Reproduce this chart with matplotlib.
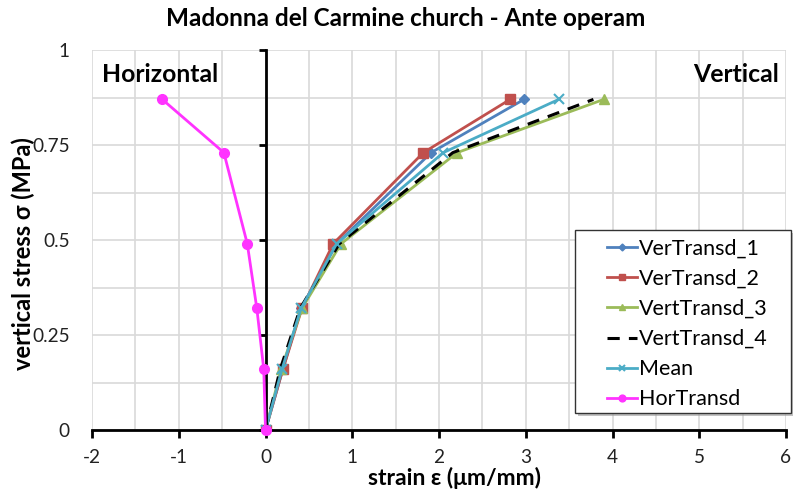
import matplotlib
matplotlib.use("Agg")
import matplotlib.pyplot as plt
from matplotlib.ticker import MultipleLocator
from matplotlib.patches import Rectangle

plt.rcParams['font.family'] = ['Lato', 'DejaVu Sans']

stress = [0, 0.16, 0.32, 0.49, 0.73, 0.87]
ver1 = [0, 0.20, 0.41, 0.82, 1.91, 2.98]
ver2 = [0, 0.20, 0.42, 0.78, 1.82, 2.82]
ver3 = [0, 0.18, 0.42, 0.87, 2.21, 3.90]
ver4 = [0, 0.17, 0.40, 0.85, 2.16, 3.78]
mean = [0, 0.19, 0.41, 0.82, 2.05, 3.38]
hor = [0, -0.02, -0.10, -0.21, -0.48, -1.19]

W, H = 793, 492
fig = plt.figure(figsize=(W / 100, H / 100), dpi=100)
ax = fig.add_axes([92/W, 1-430/H, 694/W, 380/H])

ax.plot(ver1, stress, color='#4F81BD', marker='D', ms=5, lw=2, label='VerTransd_1')
ax.plot(ver2, stress, color='#C0504D', marker='s', ms=7, lw=2, label='VerTransd_2')
ax.plot(ver3, stress, color='#9BBB59', marker='^', ms=7, lw=2, label='VertTransd_3')
ax.plot(ver4, stress, color='black', ls=(0, (4, 3)), lw=2.2, label='VertTransd_4')
ax.plot(mean, stress, color='#4BACC6', marker='x', ms=7, mew=1.5, lw=2, label='Mean')
ax.plot(hor, stress, color='#FF33FF', marker='o', ms=7, lw=2, label='HorTransd', clip_on=False, zorder=5)

ax.set_xlim(-2, 6)
ax.set_ylim(0, 1)
ax.xaxis.set_major_locator(MultipleLocator(1))
ax.xaxis.set_minor_locator(MultipleLocator(0.5))
ax.yaxis.set_major_locator(MultipleLocator(0.25))
ax.yaxis.set_minor_locator(MultipleLocator(0.125))
ax.grid(True, which='both', color='#d9d9d9', lw=1.2, zorder=0)
ax.set_axisbelow(True)

ax.set_yticks([0, 0.25, 0.5, 0.75, 1])
ax.set_yticklabels(['0', '0.25', '0.5', '0.75', '1'])
ax.set_xticks(range(-2, 7))
ax.set_xticklabels([str(v) for v in range(-2, 7)])

ax.spines['top'].set_visible(False)
ax.spines['left'].set_visible(False)
ax.spines['right'].set_position(('data', 0))
ax.spines['right'].set_linewidth(2)
ax.spines['bottom'].set_linewidth(2)

ax.tick_params(axis='y', which='major', left=False, labelleft=True, right=True,
               labelright=False, direction='in', length=5, width=2, labelsize=13.7,
               labelcolor='#222222', pad=16)
ax.tick_params(axis='y', which='minor', left=False, right=False)
ax.tick_params(axis='x', which='major', direction='out', length=6, width=2,
               labelsize=13.7, labelcolor='#222222', pad=8)
ax.tick_params(axis='x', which='minor', bottom=False)

fig.text(406/W, 1-18/H, 'Madonna del Carmine church - Ante operam', fontsize=17.5,
         fontweight='bold', ha='center', va='center')
fig.text(454/W, 1-478/H, 'strain ε (μm/mm)', fontsize=16.5, fontweight='bold',
         ha='center', va='center')
fig.text(23/W, 1-254/H, 'vertical stress σ (MPa)', fontsize=17, fontweight='bold',
         ha='center', va='center', rotation=90)

ax.text(-1.88, 0.935, 'Horizontal', fontsize=17.8, fontweight='bold', va='center', ha='left')
ax.text(5.92, 0.935, 'Vertical', fontsize=17.8, fontweight='bold', va='center', ha='right')

# legend box with shadow
shadow = Rectangle((578/W, 1-416/H), 216/W, 183/H, transform=fig.transFigure,
                   facecolor='#9a9a9a', edgecolor='none', zorder=1, alpha=0.6)
box = Rectangle((575/W, 1-413/H), 216/W, 183/H, transform=fig.transFigure,
                facecolor='white', edgecolor='#333333', lw=1, zorder=1.1)
fig.patches.extend([shadow, box])

handles, labels = ax.get_legend_handles_labels()
leg = fig.legend(handles, labels, loc='center left', bbox_to_anchor=(607/W, 1-324/H),
                 bbox_transform=fig.transFigure, frameon=False, fontsize=15.5,
                 labelspacing=0.47, handlelength=1.4, handletextpad=0.1,
                 borderpad=0, borderaxespad=0, markerscale=0.7)
leg.set_zorder(6)

fig.savefig('out.png', dpi=100)
